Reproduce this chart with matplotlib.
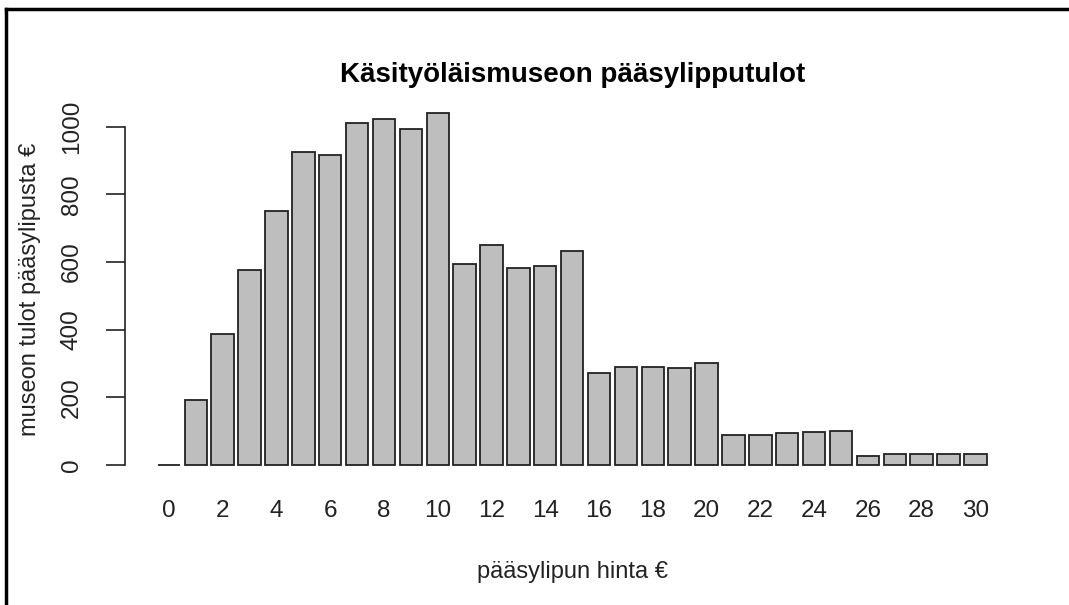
import numpy as np
import matplotlib.pyplot as plt
from matplotlib.lines import Line2D

plt.rcParams['font.family'] = ['Liberation Sans', 'DejaVu Sans']

# ticket price (EUR) and museum revenue (EUR)
hinta = list(range(0, 31))
tulot = [0, 193, 386, 575, 751, 926, 917, 1010, 1022, 992,
         1040, 593, 649, 583, 588, 633, 272, 290, 290, 286,
         302, 88, 88, 93, 98, 101, 27, 31, 31, 31, 31]
tick_labels = [str(h) for h in hinta[::2]]

fig = plt.figure(figsize=(10.69, 6.05), dpi=100)
ax = fig.add_axes([0.1165, 0.2083, 0.8374, 0.628])

ax.bar(hinta, tulot, width=1 / 1.2, color='#bebebe', edgecolor='#222222', linewidth=1.3)

ymax = max(tulot)
ax.set_ylim(-0.04 * ymax, 1.04 * ymax)
ax.set_xlim(-1.65, 31.65)

for s in ['top', 'right', 'bottom']:
    ax.spines[s].set_visible(False)
ax.spines['left'].set_bounds(0, 1000)
ax.spines['left'].set_linewidth(1.2)
ax.spines['left'].set_color('#222222')

ax.set_yticks([0, 200, 400, 600, 800, 1000])
ax.set_yticklabels(['0', '200', '400', '600', '800', '1000'], rotation=90, va='center')
ax.tick_params(axis='y', length=14, width=1.2, color='#222222', labelsize=17.5, pad=16, labelcolor='#222222')

ax.set_xticks(hinta[::2])
ax.set_xticklabels(tick_labels)
ax.tick_params(axis='x', length=0, labelsize=17.5, pad=15, labelcolor='#222222')

ax.set_title('Käsityöläismuseon pääsylipputulot', fontsize=20, fontweight='bold', pad=12)
ax.set_xlabel('pääsylipun hinta €', fontsize=17, labelpad=28, color='#222222')
ax.set_ylabel('museon tulot pääsylipusta €', fontsize=17, labelpad=14, color='#222222')

# partial frame around picture (left and top edge)
fig.add_artist(Line2D([6 / 1069, 6 / 1069], [0, 1 - 9 / 605], color='black', lw=2.5, transform=fig.transFigure))
fig.add_artist(Line2D([6 / 1069, 1], [1 - 9 / 605, 1 - 9 / 605], color='black', lw=2.5, transform=fig.transFigure))

fig.savefig('out.png', dpi=100)
